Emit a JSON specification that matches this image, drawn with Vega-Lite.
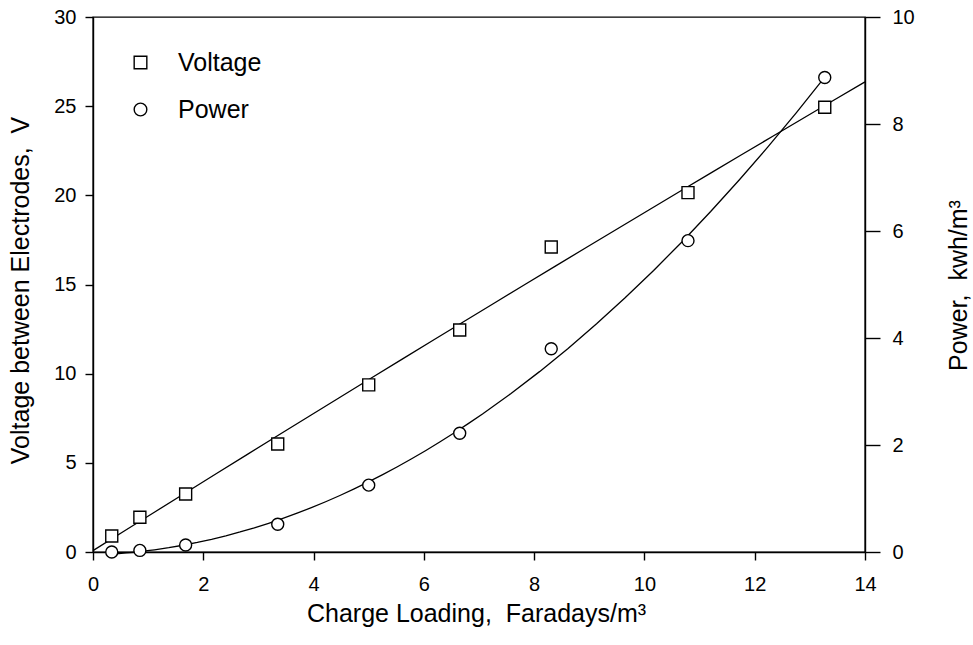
{
  "$schema": "https://vega.github.io/schema/vega-lite/v6.json",
  "width": 772,
  "height": 535,
  "autosize": {"type": "none"},
  "padding": {"left": 93, "top": 17, "right": 108, "bottom": 93},
  "background": "white",
  "config": {
    "font": "Liberation Sans",
    "view": {"stroke": "black", "strokeWidth": 1.4},
    "axis": {
      "grid": false,
      "labelFlush": false,
      "domainColor": "black",
      "domainWidth": 1.4,
      "tickColor": "black",
      "tickWidth": 1.4,
      "labelColor": "black",
      "titleColor": "black",
      "labelFont": "Liberation Sans",
      "titleFont": "Liberation Sans",
      "labelFontSize": 20,
      "titleFontSize": 25,
      "titleFontWeight": "normal"
    }
  },
  "data": {
    "values": [
      {"loading": 0.34, "series": "Voltage", "value": 0.9},
      {"loading": 0.85, "series": "Voltage", "value": 1.95},
      {"loading": 1.68, "series": "Voltage", "value": 3.25},
      {"loading": 3.35, "series": "Voltage", "value": 6.06},
      {"loading": 5.0, "series": "Voltage", "value": 9.37},
      {"loading": 6.65, "series": "Voltage", "value": 12.45},
      {"loading": 8.31, "series": "Voltage", "value": 17.1},
      {"loading": 10.79, "series": "Voltage", "value": 20.15},
      {"loading": 13.27, "series": "Voltage", "value": 24.94},
      {"loading": 0.34, "series": "Power", "value": 0.0},
      {"loading": 0.85, "series": "Power", "value": 0.03},
      {"loading": 1.68, "series": "Power", "value": 0.13},
      {"loading": 3.35, "series": "Power", "value": 0.52},
      {"loading": 5.0, "series": "Power", "value": 1.25},
      {"loading": 6.65, "series": "Power", "value": 2.22},
      {"loading": 8.31, "series": "Power", "value": 3.8},
      {"loading": 10.79, "series": "Power", "value": 5.82},
      {"loading": 13.27, "series": "Power", "value": 8.87}
    ]
  },
  "encoding": {
    "x": {
      "field": "loading",
      "type": "quantitative",
      "scale": {"domain": [0, 14], "nice": false},
      "axis": {
        "values": [0, 2, 4, 6, 8, 10, 12, 14],
        "tickSize": 8,
        "labelPadding": 14,
        "title": "Charge Loading,\u00a0 Faradays/m³",
        "titleX": 383,
        "titleY": 69,
        "titleAlign": "center",
        "titleBaseline": "alphabetic"
      }
    }
  },
  "layer": [
    {
      "transform": [{"filter": "datum.series === 'Voltage'"}],
      "encoding": {
        "y": {
          "field": "value",
          "type": "quantitative",
          "scale": {"domain": [0, 30], "nice": false},
          "axis": {
            "orient": "left",
            "values": [0, 5, 10, 15, 20, 25, 30],
            "tickSize": 8,
            "labelPadding": 9,
            "title": "Voltage between Electrodes,\u00a0 V",
            "titleAngle": -90,
            "titleX": -65,
            "titleY": 273,
            "titleAlign": "center",
            "titleBaseline": "alphabetic"
          }
        }
      },
      "layer": [
        {
          "transform": [
            {"regression": "value", "on": "loading", "method": "poly", "order": 2, "extent": [0, 14]}
          ],
          "mark": {"type": "line", "color": "black", "strokeWidth": 1.3}
        },
        {
          "mark": {"type": "point", "color": "black", "fill": "white", "strokeWidth": 1.4, "size": 144, "opacity": 1},
          "encoding": {
            "shape": {
              "field": "series",
              "type": "nominal",
              "scale": {"domain": ["Voltage", "Power"], "range": ["square", "circle"]},
              "legend": {
                "orient": "none",
                "legendX": 35,
                "legendY": 33,
                "title": null,
                "labelFontSize": 25,
                "labelOffset": 25,
                "rowPadding": 21,
                "symbolSize": 160,
                "symbolStrokeWidth": 1.4
              }
            }
          }
        }
      ]
    },
    {
      "transform": [{"filter": "datum.series === 'Power'"}],
      "encoding": {
        "y": {
          "field": "value",
          "type": "quantitative",
          "scale": {"domain": [0, 10], "nice": false},
          "axis": {
            "orient": "right",
            "values": [0, 2, 4, 6, 8, 10],
            "tickSize": 15,
            "labelPadding": 12,
            "title": "Power,\u00a0 kwh/m³",
            "titleAngle": -90,
            "titleX": 101,
            "titleY": 268,
            "titleAlign": "center",
            "titleBaseline": "alphabetic"
          }
        }
      },
      "layer": [
        {
          "transform": [
            {"regression": "value", "on": "loading", "method": "poly", "order": 2}
          ],
          "mark": {"type": "line", "color": "black", "strokeWidth": 1.3}
        },
        {
          "mark": {"type": "point", "color": "black", "fill": "white", "strokeWidth": 1.4, "size": 144, "opacity": 1},
          "encoding": {
            "shape": {
              "field": "series",
              "type": "nominal",
              "scale": {"domain": ["Voltage", "Power"], "range": ["square", "circle"]}
            }
          }
        }
      ]
    }
  ],
  "resolve": {"scale": {"y": "independent"}}
}
